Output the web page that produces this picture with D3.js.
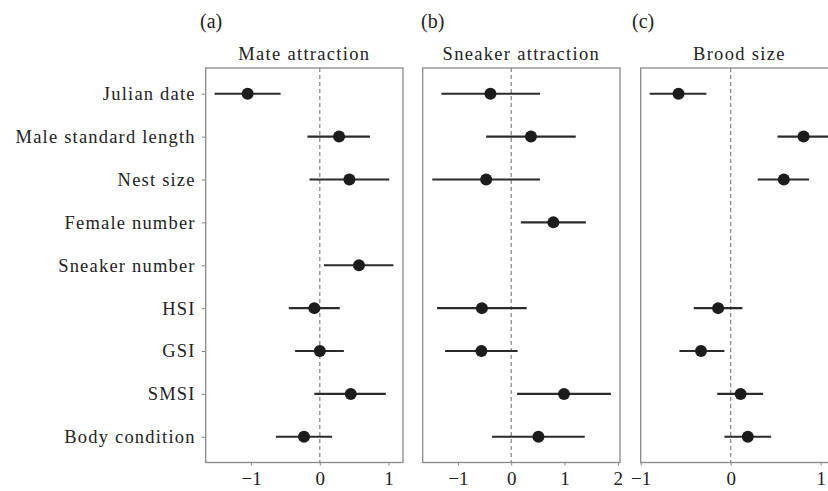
<!DOCTYPE html>
<html>
<head>
<meta charset="utf-8">
<script src="https://cdn.jsdelivr.net/npm/d3@7"></script>
<style>
  html, body { margin: 0; padding: 0; background: #fff; overflow: hidden; }
  svg text { font-family: "Liberation Serif", "DejaVu Serif", serif; fill: #222; }
</style>
</head>
<body>
<div id="chart"></div>
<script>
const predictors = ["Julian date", "Male standard length", "Nest size", "Female number",
  "Sneaker number", "HSI", "GSI", "SMSI", "Body condition"];

// Panel (a) Mate attraction
const mateEst = [-1.05, 0.28, 0.43, null, 0.57, -0.08, 0.00, 0.45, -0.23];
const mateLo  = [-1.53, -0.18, -0.15, null, 0.06, -0.45, -0.36, -0.08, -0.64];
const mateHi  = [-0.57, 0.73, 1.01, null, 1.07, 0.29, 0.35, 0.96, 0.18];

// Panel (b) Sneaker attraction
const sneakEst = [-0.39, 0.37, -0.47, 0.79, null, -0.55, -0.56, 0.99, 0.51];
const sneakLo  = [-1.31, -0.47, -1.48, 0.18, null, -1.39, -1.24, 0.11, -0.36];
const sneakHi  = [0.54, 1.21, 0.54, 1.40, null, 0.29, 0.12, 1.87, 1.38];

// Panel (c) Brood size
const broodEst = [-0.58, 0.81, 0.59, null, null, -0.14, -0.33, 0.11, 0.19];
const broodLo  = [-0.90, 0.52, 0.30, null, null, -0.41, -0.57, -0.15, -0.07];
const broodHi  = [-0.27, 1.10, 0.87, null, null, 0.13, -0.07, 0.36, 0.45];

const panelTags = ["(a)", "(b)", "(c)"];
const panelTitles = ["Mate attraction", "Sneaker attraction", "Brood size"];
const xTicks = [[-1, 0, 1], [-1, 0, 1, 2], [-1, 0, 1]];

const width = 828, height = 491;
const plotTop = 68, plotBottom = 462.5;

const panels = [
  { left: 205.7, right: 403, domain: [-1.66, 1.21], est: mateEst, lo: mateLo, hi: mateHi, tagX: 200 },
  { left: 422.7, right: 620, domain: [-1.66, 2.04], est: sneakEst, lo: sneakLo, hi: sneakHi, tagX: 421 },
  { left: 640.7, right: 838, domain: [-1.0, 1.192], est: broodEst, lo: broodLo, hi: broodHi, tagX: 632 }
];

const svg = d3.select("#chart").append("svg")
  .attr("width", width)
  .attr("height", height);

const y = d3.scalePoint()
  .domain(predictors)
  .range([plotTop, plotBottom])
  .padding(0.6);

// y-axis labels for panel (a)
const yAxis = svg.append("g")
  .attr("transform", `translate(${panels[0].left},0)`)
  .call(d3.axisLeft(y).tickSize(4).tickPadding(6));
yAxis.select(".domain").remove();
yAxis.selectAll("line").attr("stroke", "#888");
yAxis.selectAll("text")
  .style("font-size", "18.5px")
  .style("letter-spacing", "1.2px")
  .attr("dy", "0.32em")
  .attr("fill", "#222");

panels.forEach((p, i) => {
  const x = d3.scaleLinear().domain(p.domain).range([p.left, p.right]);
  const g = svg.append("g");

  // zero reference line
  g.append("line")
    .attr("x1", x(0)).attr("x2", x(0))
    .attr("y1", plotTop).attr("y2", plotBottom)
    .attr("stroke", "#777")
    .attr("stroke-width", 1.1)
    .attr("stroke-dasharray", "4,3");

  const rows = predictors.map((name, k) => ({ name, est: p.est[k], lo: p.lo[k], hi: p.hi[k] }))
    .filter(d => d.est !== null);

  g.selectAll(".ci")
    .data(rows)
    .enter()
    .append("line")
    .attr("class", "ci")
    .attr("x1", d => x(d.lo))
    .attr("x2", d => x(d.hi))
    .attr("y1", d => y(d.name))
    .attr("y2", d => y(d.name))
    .attr("stroke", "#2b2b2b")
    .attr("stroke-width", 2.2);

  g.selectAll(".pt")
    .data(rows)
    .enter()
    .append("circle")
    .attr("class", "pt")
    .attr("cx", d => x(d.est))
    .attr("cy", d => y(d.name))
    .attr("r", 6)
    .attr("fill", "#1c1c1c");

  // panel frame
  g.append("rect")
    .attr("x", p.left)
    .attr("y", plotTop)
    .attr("width", p.right - p.left)
    .attr("height", plotBottom - plotTop)
    .attr("fill", "none")
    .attr("stroke", "#888")
    .attr("stroke-width", 1.3);

  // x axis
  const xa = g.append("g")
    .attr("transform", `translate(0,${plotBottom})`)
    .call(d3.axisBottom(x).tickValues(xTicks[i]).tickSize(3).tickPadding(6)
      .tickFormat(d => d < 0 ? "\u2212" + Math.abs(d) : String(d)));
  xa.select(".domain").remove();
  xa.selectAll("line").attr("stroke", "#888");
  xa.selectAll("text")
    .style("font-size", "19px")
    .attr("fill", "#222");

  // title
  svg.append("text")
    .attr("x", (p.left + p.right) / 2)
    .attr("y", 60)
    .attr("text-anchor", "middle")
    .style("font-size", "18.5px")
    .style("letter-spacing", "1.3px")
    .text(panelTitles[i]);

  svg.append("text")
    .attr("x", p.tagX)
    .attr("y", 28)
    .style("font-size", "20px")
    .text(panelTags[i]);
});
</script>
</body>
</html>
